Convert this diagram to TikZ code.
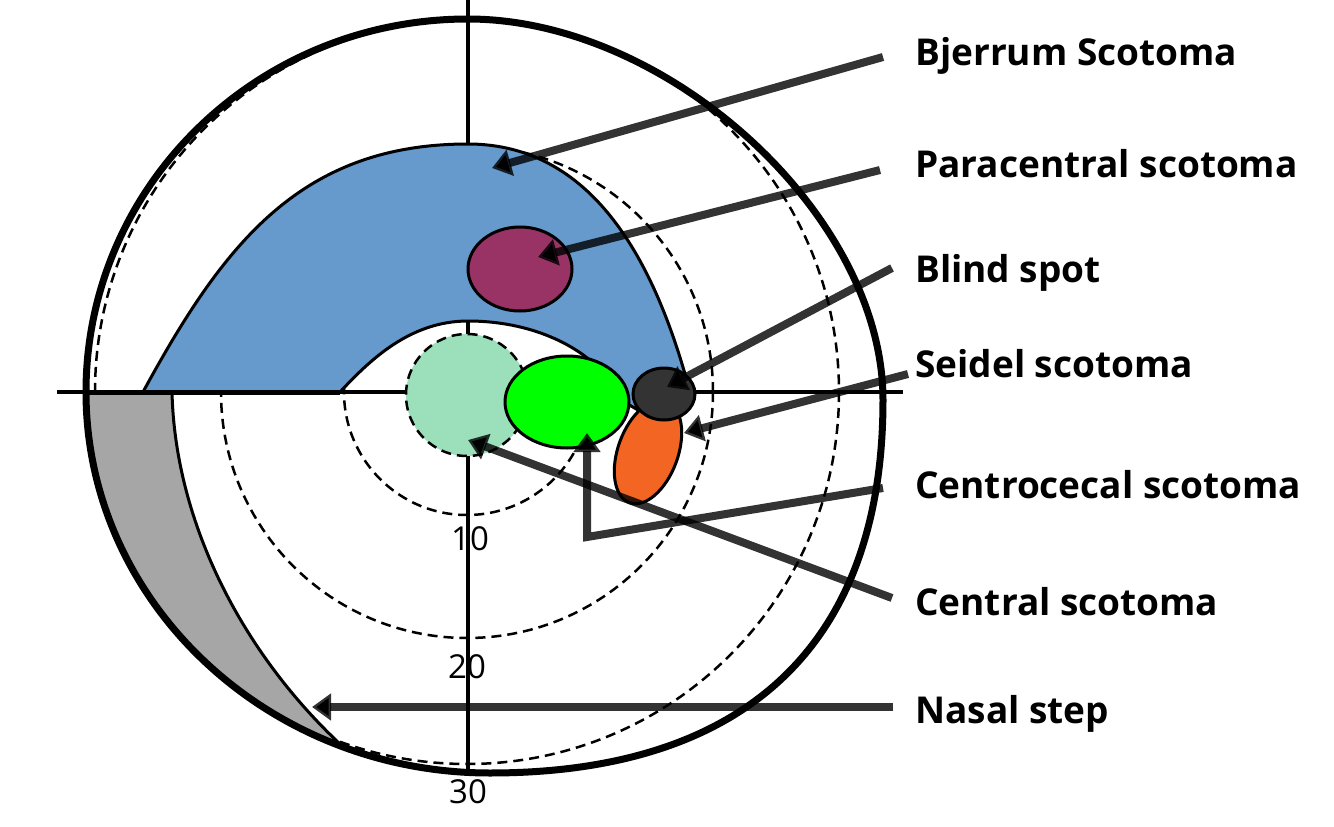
\documentclass[tikz,border=0pt]{standalone}
\usepackage{fontspec}
\setmainfont{Open Sans}
\usetikzlibrary{arrows.meta}
\definecolor{bjblue}{HTML}{6699CC}
\definecolor{parapurple}{HTML}{993366}
\definecolor{mint}{HTML}{9BDFBB}
\definecolor{brightgreen}{HTML}{00FF00}
\definecolor{seidelorange}{HTML}{F26522}
\definecolor{spotgray}{HTML}{333333}
\definecolor{stepgray}{HTML}{A6A6A6}
\begin{document}
\begin{tikzpicture}[x=1pt,y=-1pt,
  lbl/.style={anchor=base west, inner sep=0pt, font=\fontsize{37}{42}\selectfont\bfseries},
  num/.style={anchor=base, inner sep=0pt, font=\fontsize{33}{40}\selectfont},
  ptr/.style={draw=black, draw opacity=0.8, line width=8pt, line join=miter,
              -{Triangle[length=19pt,width=26pt]}},
  ring/.style={draw=black, line width=2.5pt, dash pattern=on 10pt off 6pt},
  axis/.style={draw=black, line width=4pt},
  shapeline/.style={draw=black, line width=3pt},
  rim/.style={draw=black, line width=7pt}]
\def\outline{(468,19) .. controls (668,19) and (883,215) .. (883,400) .. controls (883,645) and (745,773) .. (490,773) .. controls (267,773) and (86,602) .. (86,392) .. controls (86,186) and (257,19) .. (468,19) -- cycle}
% background / bounding box
\fill[white] (0,0) rectangle (1334,827);
\useasboundingbox (0,0) rectangle (1334,827);
\coordinate (C) at (467,392);
% dashed rings
\draw[ring] (C) circle[radius=123];
\draw[ring] (C) circle[radius=246];
\draw[ring] (C) circle[radius=372];
% axes
\coordinate (axL) at (57,392);
\coordinate (axR) at (903,392);
\coordinate (axT) at (468,0);
\coordinate (axB) at (468,770);
\draw[axis] (axL) -- (axR);
\draw[axis] (axT) -- (axB);
% nasal step (grey)
\begin{scope}
  \clip \outline;
  \fill[stepgray] (172,392) .. controls (175,520) and (240,650) .. (340,744) -- (420,790) -- (0,827) -- (0,392) -- cycle;
\end{scope}
\draw[shapeline] (172,392) .. controls (175,520) and (240,650) .. (340,744);
\draw[line width=5pt] (86,392) -- (172,392);
% Bjerrum (blue)
\filldraw[fill=bjblue, shapeline] (143,392) .. controls (223,245) and (300,144) .. (468,144) .. controls (598,144) and (658,272) .. (690,392) -- (645,414) -- (612,395) -- (605,375) .. controls (580,345) and (530,321) .. (468,321) .. controls (410,321) and (370,360) .. (340,392) -- cycle;
\draw[line width=5pt] (143,392) -- (340,392);
% outer rim
\draw[rim] \outline;
% paracentral
\draw[shapeline, fill=parapurple] (520,269) ellipse[x radius=52, y radius=42];
% central scotoma (mint)
\draw[ring, fill=mint] (467,395) circle[radius=61];
% centrocecal (green)
\draw[shapeline, fill=brightgreen] (567,402) ellipse[x radius=62, y radius=46];
% Seidel (orange)
\draw[shapeline, fill=seidelorange, rotate around={70:(648,452)}] (648,452) ellipse[x radius=54, y radius=30];
% blind spot
\draw[shapeline, fill=spotgray] (664,394) ellipse[x radius=31, y radius=26];
% ring numbers
\node[num] (n10) at (470,550) {10};
\node[num] (n20) at (467,678) {20};
\node[num] (n30) at (468,803) {30};
% labels
\node[lbl] (bj) at (915,65) {Bjerrum Scotoma};
\node[lbl] (pa) at (915,177) {Paracentral scotoma};
\node[lbl] (bl) at (915,282) {Blind spot};
\node[lbl] (se) at (915,377) {Seidel scotoma};
\node[lbl] (cc) at (915,498) {Centrocecal scotoma};
\node[lbl] (ce) at (915,615) {Central scotoma};
\node[lbl] (na) at (915,723) {Nasal step};
% arrow ends
\coordinate (bjS) at (883,57);  \coordinate (bjT) at (492,168);
\coordinate (paS) at (880,170); \coordinate (paT) at (538,257);
\coordinate (blS) at (892,268); \coordinate (blT) at (667,387);
\coordinate (seS) at (908,374); \coordinate (seT) at (684,433);
\coordinate (ccS) at (883,488); \coordinate (ccK) at (587,537); \coordinate (ccT) at (587,433);
\coordinate (ceS) at (892,598); \coordinate (ceT) at (468,440);
\coordinate (naS) at (893,707); \coordinate (naT) at (312,707);
\draw[ptr] (bjS) -- (bjT);
\draw[ptr] (paS) -- (paT);
\draw[ptr] (blS) -- (blT);
\draw[ptr] (seS) -- (seT);
\draw[ptr] (ccS) -- (ccK) -- (ccT);
\draw[ptr] (ceS) -- (ceT);
\draw[ptr] (naS) -- (naT);
\end{tikzpicture}
\end{document}
